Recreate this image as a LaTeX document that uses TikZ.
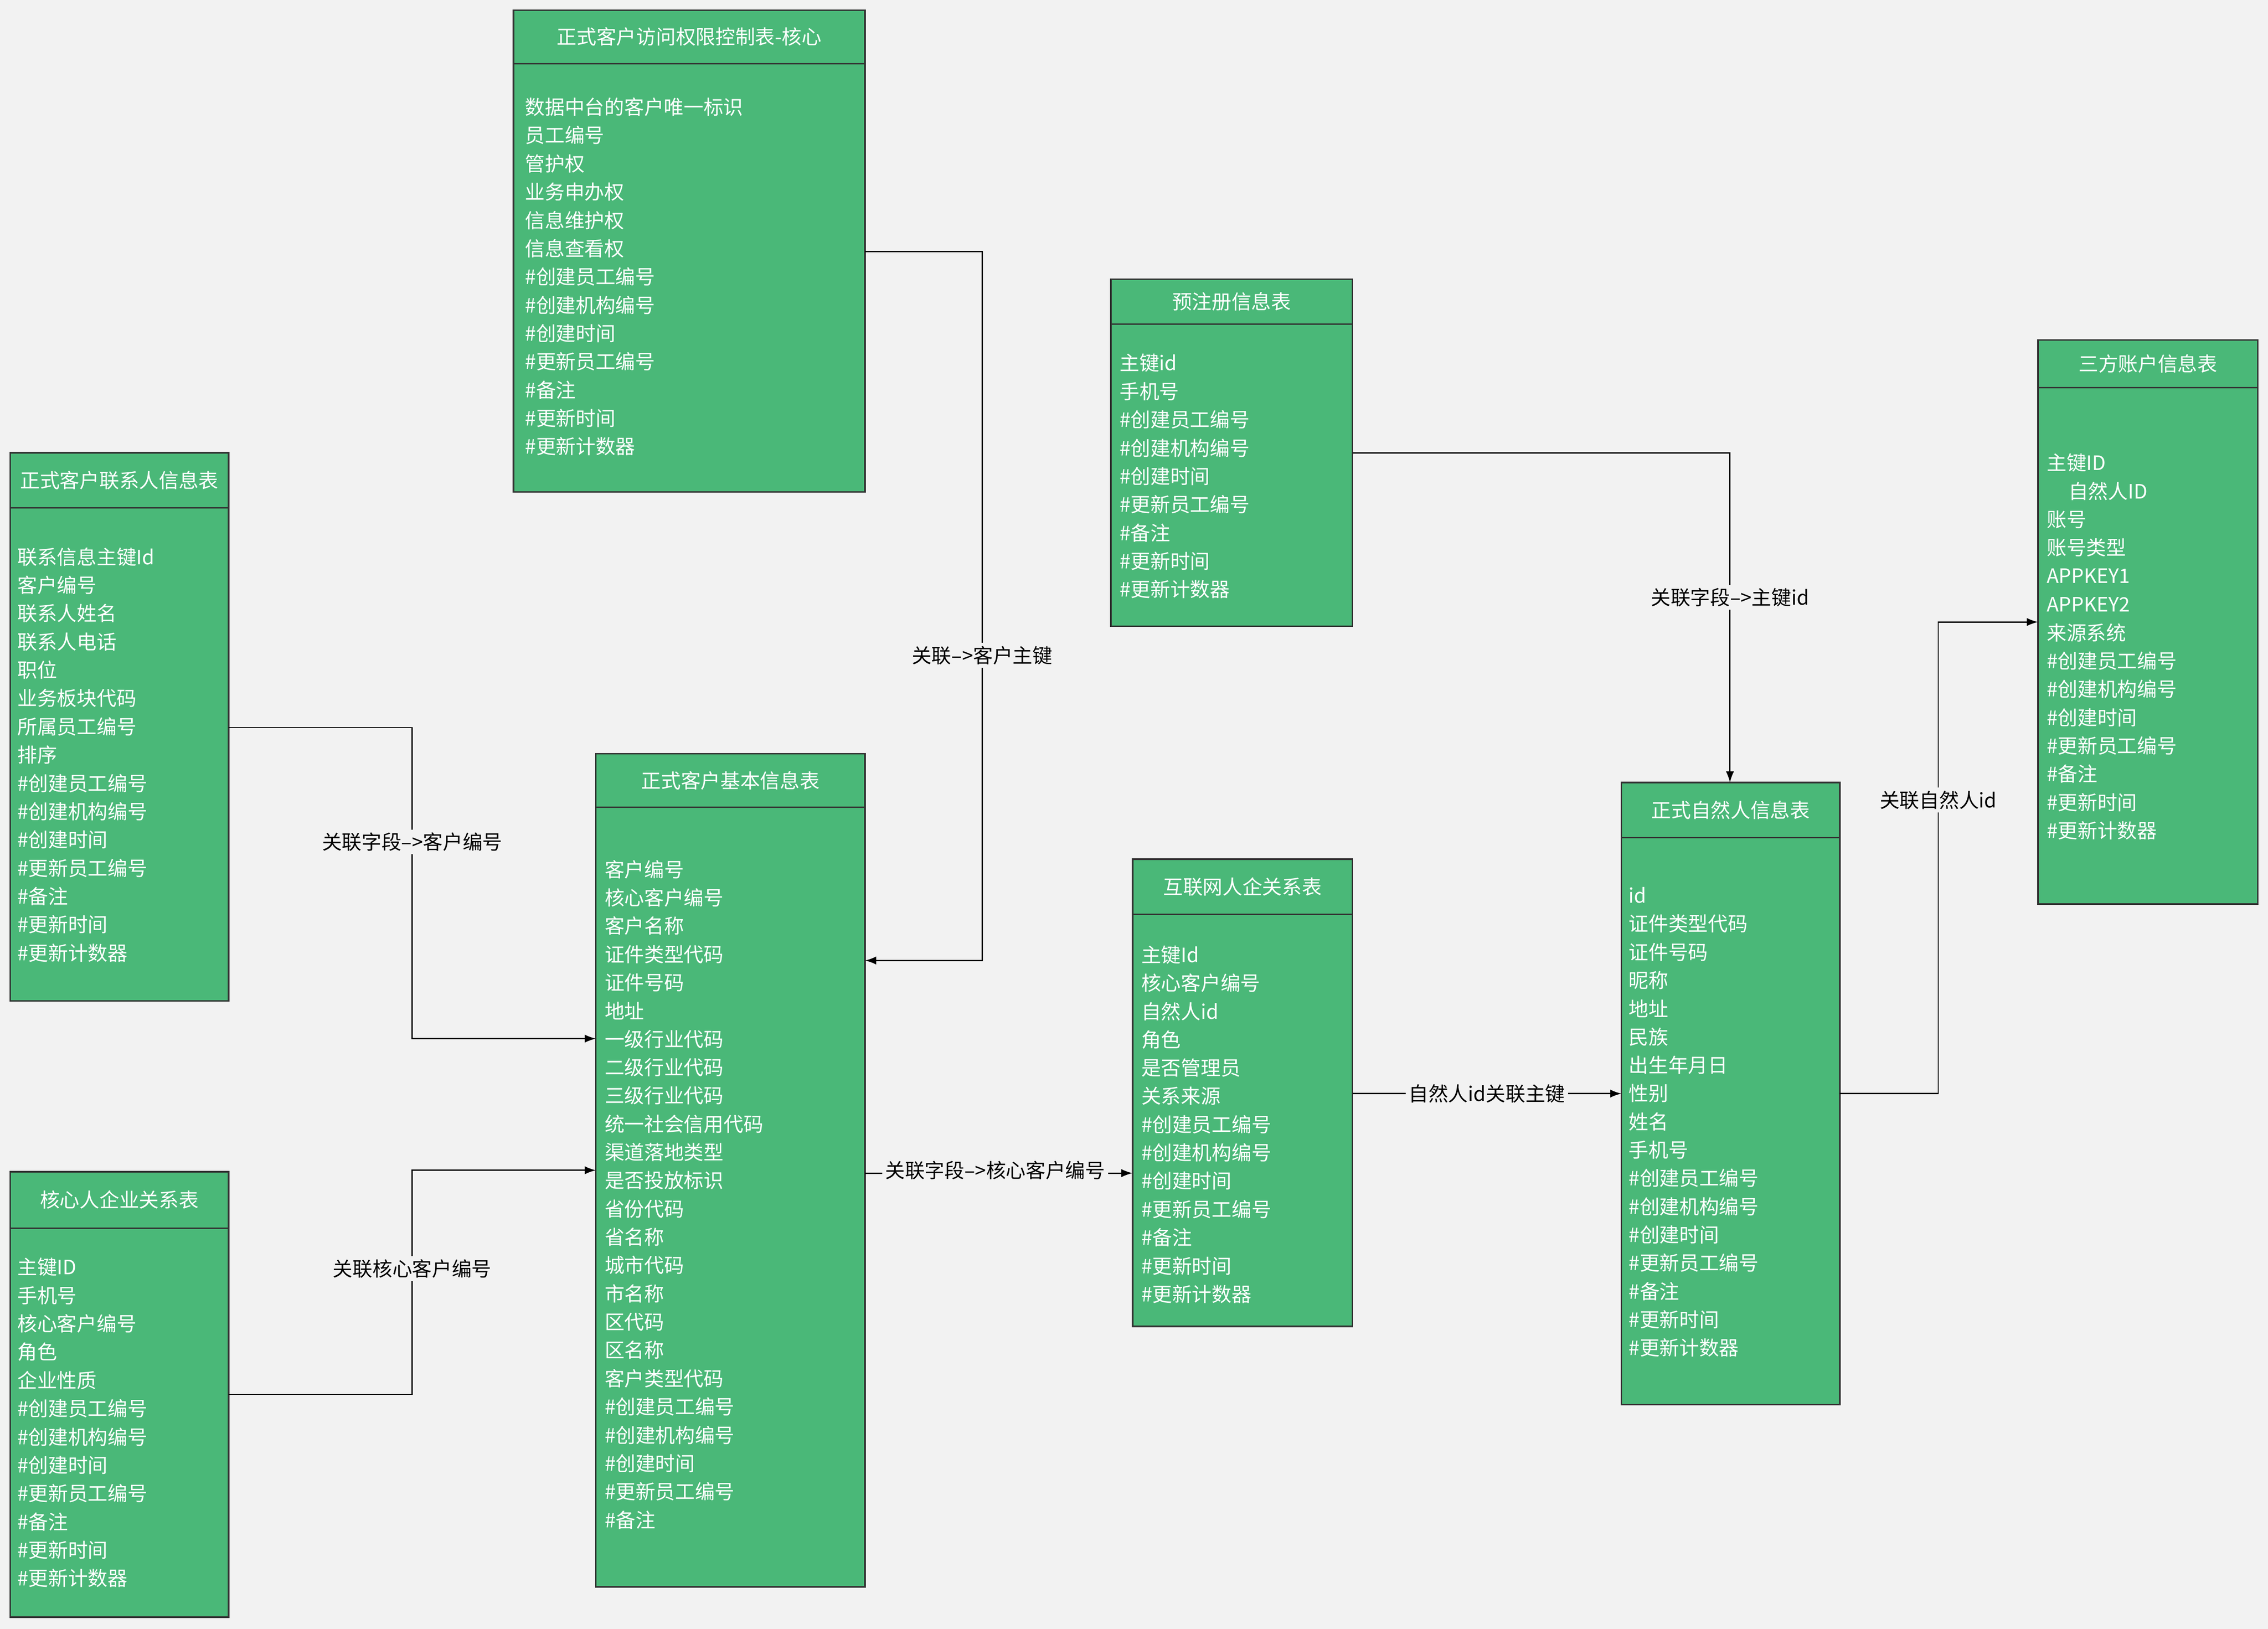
\documentclass[tikz,border=0pt]{standalone}
\usepackage{fontspec}
\setmainfont{Noto Sans CJK SC}
\usetikzlibrary{arrows.meta}
\definecolor{tg}{HTML}{4AB878}
\definecolor{bg}{HTML}{F2F2F2}
\begin{document}
\begin{tikzpicture}[x=1mm,y=-1mm,
  tbl/.style={draw=black!80,line width=3pt,fill=tg},
  row/.style={anchor=west,text=white,font=\fontsize{39}{45}\selectfont,inner sep=0},
  hd/.style={text=white,font=\fontsize{39}{45}\selectfont,inner sep=0},
  con/.style={draw=black,line width=2.6pt,-{Latex[length=22pt,width=16pt]}},
  lab/.style={fill=bg,text=black,font=\fontsize{39}{45}\selectfont,inner sep=6pt}]
\fill[bg] (0,0) rectangle (1568,1126);
\useasboundingbox (0,0) rectangle (1568,1126);
% table macro
\newcommand{\mytable}[8]{% name,x1,y1,x2,y2,headerline,title,firstrow
  \draw[tbl] (#2,#3) rectangle (#4,#5);
  \coordinate (#1nw) at (#2,#3); \coordinate (#1se) at (#4,#5);
  \draw[draw=black!80,line width=3pt] (#2,#6) -- (#4,#6);
  \node[hd] (#1h) at ({(#2+#4)/2},{(#3+#6)/2}) {#7};
}
\newcommand{\myrows}[4]{% x, y0, list
  \foreach \t [count=\i] in {#3} {\node[row] at (#1,{#2+(\i-1)*19.55}) {\t};}
}
\mytable{A}{355}{7}{598}{340}{44}{正式客户访问权限控制表-核心}{}
\myrows{363}{74}{数据中台的客户唯一标识,员工编号,管护权,业务申办权,信息维护权,信息查看权,\#创建员工编号,\#创建机构编号,\#创建时间,\#更新员工编号,\#备注,\#更新时间,\#更新计数器}{}
\mytable{B}{7}{313}{158}{692}{351}{正式客户联系人信息表}{}
\myrows{12}{385}{联系信息主键Id,客户编号,联系人姓名,联系人电话,职位,业务板块代码,所属员工编号,排序,\#创建员工编号,\#创建机构编号,\#创建时间,\#更新员工编号,\#备注,\#更新时间,\#更新计数器}{}
\mytable{C}{7}{810}{158}{1118}{849}{核心人企业关系表}{}
\myrows{12}{876}{主键ID,手机号,核心客户编号,角色,企业性质,\#创建员工编号,\#创建机构编号,\#创建时间,\#更新员工编号,\#备注,\#更新时间,\#更新计数器}{}
\mytable{D}{412}{521}{598}{1097}{558}{正式客户基本信息表}{}
\myrows{418}{601}{客户编号,核心客户编号,客户名称,证件类型代码,证件号码,地址,一级行业代码,二级行业代码,三级行业代码,统一社会信用代码,渠道落地类型,是否投放标识,省份代码,省名称,城市代码,市名称,区代码,区名称,客户类型代码,\#创建员工编号,\#创建机构编号,\#创建时间,\#更新员工编号,\#备注}{}
\mytable{E}{768}{193}{935}{433}{224}{预注册信息表}{}
\myrows{774}{251}{主键id,手机号,\#创建员工编号,\#创建机构编号,\#创建时间,\#更新员工编号,\#备注,\#更新时间,\#更新计数器}{}
\mytable{F}{783}{594}{935}{917}{632}{互联网人企关系表}{}
\myrows{789}{660}{主键Id,核心客户编号,自然人id,角色,是否管理员,关系来源,\#创建员工编号,\#创建机构编号,\#创建时间,\#更新员工编号,\#备注,\#更新时间,\#更新计数器}{}
\mytable{G}{1121}{541}{1272}{971}{579}{正式自然人信息表}{}
\myrows{1126}{619}{id,证件类型代码,证件号码,昵称,地址,民族,出生年月日,性别,姓名,手机号,\#创建员工编号,\#创建机构编号,\#创建时间,\#更新员工编号,\#备注,\#更新时间,\#更新计数器}{}
\mytable{H}{1409}{235}{1561}{625}{268}{三方账户信息表}{}
\myrows{1415}{320}{主键ID,\hspace*{15mm}自然人ID,账号,账号类型,APPKEY1,APPKEY2,来源系统,\#创建员工编号,\#创建机构编号,\#创建时间,\#更新员工编号,\#备注,\#更新时间,\#更新计数器}{}
% connectors
\draw[con] (598,174) -- (679,174) -- (679,664) -- (598,664);
\node[lab] at (679,453) {关联-->客户主键};
\draw[con] (158,503) -- (285,503) -- (285,718) -- (412,718);
\node[lab] at (285,582) {关联字段-->客户编号};
\draw[con] (158,964) -- (285,964) -- (285,809) -- (412,809);
\node[lab] at (285,877) {关联核心客户编号};
\draw[con] (598,811) -- (783,811);
\node[lab] at (688,809) {关联字段-->核心客户编号};
\draw[con] (935,313) -- (1196,313) -- (1196,541);
\node[lab] at (1196,413) {关联字段-->主键id};
\draw[con] (935,756) -- (1121,756);
\node[lab] at (1028,756) {自然人id关联主键};
\draw[con] (1272,756) -- (1340,756) -- (1340,430) -- (1409,430);
\node[lab] at (1340,553) {关联自然人id};
\end{tikzpicture}
\end{document}
